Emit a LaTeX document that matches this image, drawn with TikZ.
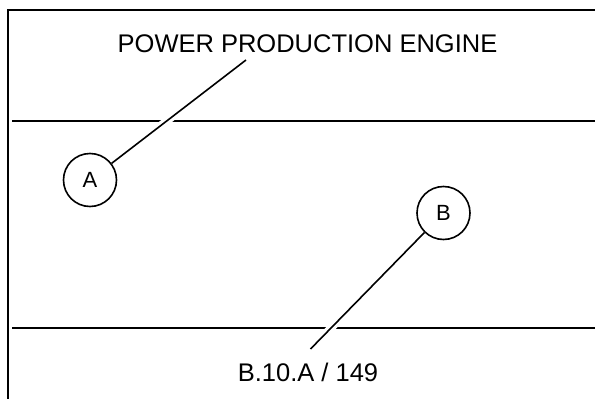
\documentclass[tikz,border=0pt]{standalone}
\usepackage{fontspec}
\setmainfont{Liberation Sans}
\begin{document}
\begin{tikzpicture}[x=1pt,y=-1pt,
  frameline/.style={line width=2.3pt, black},
  levelline/.style={line width=2.3pt, black},
  leader/.style={line width=1.6pt, black, preaction={draw=white, line width=8pt, shorten <=12pt, shorten >=12pt}},
  callout/.style={circle, draw, line width=1.6pt, minimum size=53pt, inner sep=0pt, font=\fontsize{22}{24}\selectfont},
  label/.style={font=\fontsize{25.5}{28}\selectfont, inner sep=0pt, anchor=base}]
\useasboundingbox (0,0) rectangle (595,399);
\fill[white] (0,0) rectangle (595,399);
% frame
\coordinate (fbl) at (8,399);
\coordinate (ftl) at (8,10);
\coordinate (ftr) at (595,10);
\draw[frameline] (fbl) -- (ftl) -- (ftr);
% horizontal lines
\coordinate (l1a) at (12,121);
\coordinate (l1b) at (595,121);
\coordinate (l2a) at (12,328);
\coordinate (l2b) at (595,328);
\draw[levelline] (l1a) -- (l1b);
\draw[levelline] (l2a) -- (l2b);
% labels
\node[label] (title) at (307.5,52) {POWER PRODUCTION ENGINE};
\node[label] (ref) at (308,381) {B.10.A / 149};
% callouts
\node[callout] (A) at (90,180) {A};
\node[callout] (B) at (443.5,213) {B};
\coordinate (pa) at (246,60);
\coordinate (pb) at (310.5,349);
\draw[leader] (pa) -- (A);
\draw[leader] (pb) -- (B);
\end{tikzpicture}
\end{document}
